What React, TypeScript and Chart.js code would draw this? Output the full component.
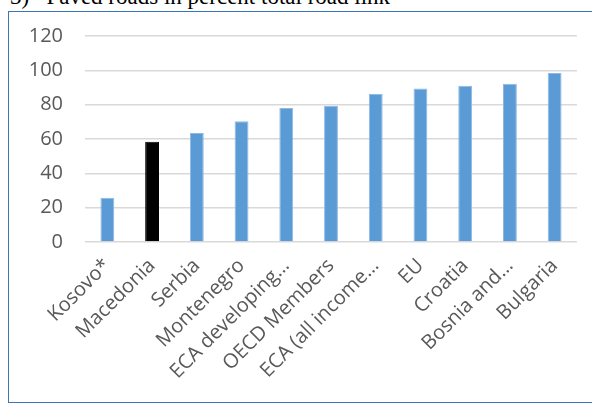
import React, { useEffect, useRef } from "react";
import { Chart, registerables } from "chart.js";

Chart.register(...registerables);

const categories = [
  "Kosovo*",
  "Macedonia",
  "Serbia",
  "Montenegro",
  "ECA developing…",
  "OECD Members",
  "ECA (all income…",
  "EU",
  "Croatia",
  "Bosnia and…",
  "Bulgaria",
];
const pavedRoads = [25.8, 58.4, 63.5, 70.4, 78.1, 79.3, 86.3, 89.4, 91.0, 92.2, 98.4];
const highlightIndex = 1;
const yTicks = [0, 20, 40, 60, 80, 100, 120];
const titleText = "3)\u00a0\u00a0\u00a0Paved roads in percent total road link";

const BLUE = "#5B9BD5";
const BLUE_EDGE = "#8DB9E2";

export default function App() {
  const canvasRef = useRef<HTMLCanvasElement | null>(null);

  useEffect(() => {
    document.body.style.margin = "0";
    const canvas = canvasRef.current;
    if (!canvas) return;
    const chart = new Chart(canvas, {
      type: "bar",
      data: {
        labels: categories,
        datasets: [
          {
            data: pavedRoads,
            backgroundColor: pavedRoads.map((_, i) => (i === highlightIndex ? "#000000" : BLUE)),
            borderColor: pavedRoads.map((_, i) => (i === highlightIndex ? "#000000" : BLUE_EDGE)),
            borderWidth: 1,
            barPercentage: 0.31,
            categoryPercentage: 1,
          },
        ],
      },
      options: {
        responsive: false,
        animation: false,
        devicePixelRatio: 1,
        layout: { padding: { top: 15, right: 15, bottom: 0, left: 0 } },
        plugins: {
          legend: { display: false },
          tooltip: { enabled: false },
          title: { display: false },
        },
        scales: {
          y: {
            min: yTicks[0],
            max: yTicks[yTicks.length - 1],
            afterBuildTicks: (s: any) => {
              s.ticks = yTicks.map((v) => ({ value: v }));
            },
            afterFit: (s: any) => {
              s.width = 76;
            },
            ticks: {
              color: "#595959",
              font: { family: "'Open Sans'", size: 20 },
              padding: 22,
            },
            grid: { color: "#D9D9D9", lineWidth: 1.5, drawTicks: false },
            border: { display: false },
          },
          x: {
            afterFit: (s: any) => {
              s.height = 160;
            },
            ticks: {
              color: "#595959",
              font: { family: "'Open Sans'", size: 20 },
              maxRotation: 45,
              minRotation: 45,
              autoSkip: false,
              padding: 4,
            },
            grid: { display: false },
            border: { display: false },
          },
        },
      },
    });
    return () => chart.destroy();
  }, []);

  return (
    <div
      style={{
        position: "fixed",
        left: 0,
        top: 0,
        width: 592,
        height: 405,
        overflow: "hidden",
        background: "#ffffff",
      }}
    >
      <div
        style={{
          position: "absolute",
          left: 10,
          top: -16,
          fontFamily: "'Liberation Serif', serif",
          fontSize: 23,
          whiteSpace: "pre",
          color: "#000",
          lineHeight: "26px",
        }}
      >
        {titleText}
      </div>
      <div
        style={{
          position: "absolute",
          left: 8,
          top: 11,
          width: 620,
          height: 392,
          border: "1px solid #3E74B8",
          boxSizing: "border-box",
        }}
      />
      <canvas
        ref={canvasRef}
        width={583}
        height={400}
        style={{ position: "absolute", left: 9, top: 2 }}
      />
    </div>
  );
}
